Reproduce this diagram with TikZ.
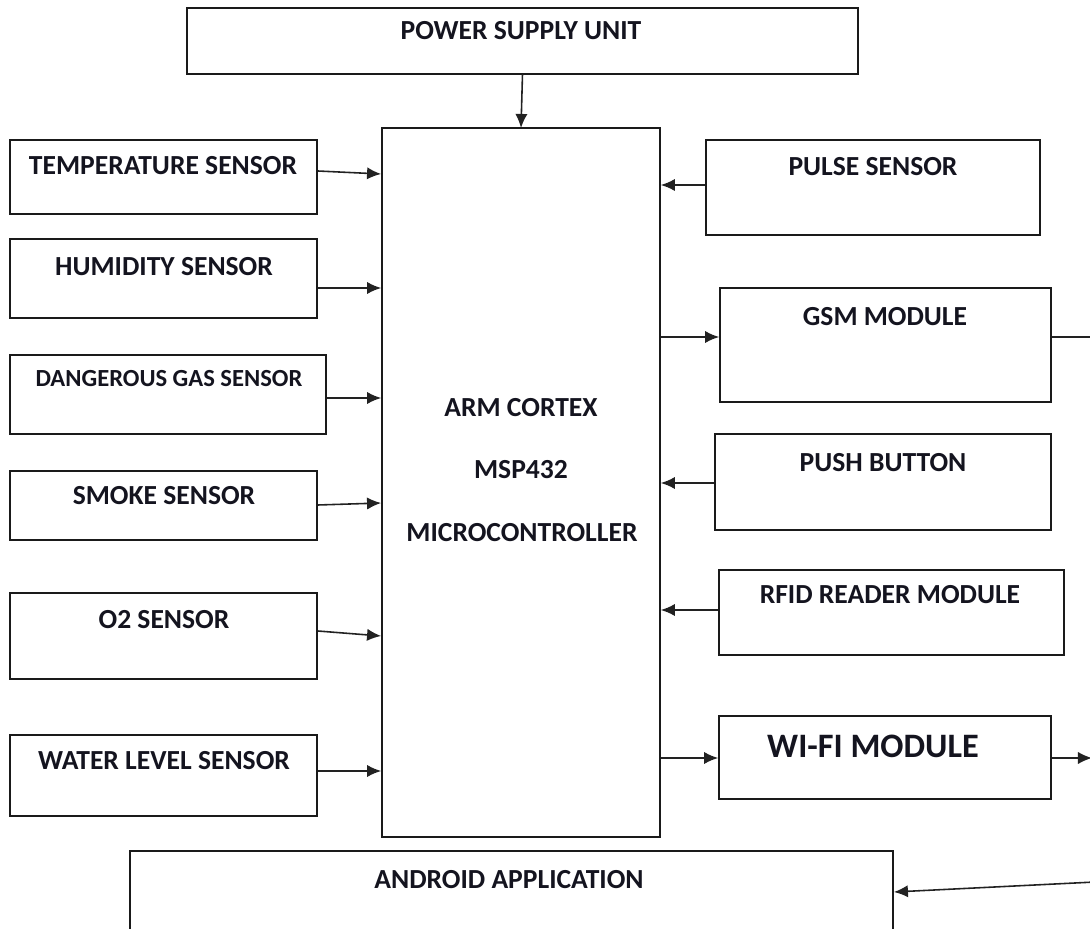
\documentclass[tikz,border=0pt]{standalone}
\usepackage{fontspec}
\setmainfont{Carlito}
\usetikzlibrary{arrows.meta,fit}
\definecolor{BlockLine}{HTML}{1A1A1A}
\definecolor{WireLine}{HTML}{222222}
\definecolor{LabelInk}{HTML}{14141F}
\tikzset{
  block/.style={draw=BlockLine,line width=1pt,inner sep=0pt},
  lbl/.style={text=LabelInk,font=\bfseries\fontsize{15.7}{18}\selectfont,inner sep=0pt},
  wire/.style={draw=WireLine,line width=0.9pt,-{Latex[length=8pt,width=7pt]}},
  plainwire/.style={draw=WireLine,line width=0.9pt},
}
\begin{document}
\begin{tikzpicture}[x=0.02cm,y=-0.02cm]
  \useasboundingbox (0,0) rectangle (1090,929);
  % blocks
  \node[block,fit={(187,8) (858,74)}] (psu) {};
  \node[block,fit={(382,128) (660,837)}] (mcu) {};
  \node[block,fit={(10,140) (317,214)}] (temp) {};
  \node[block,fit={(10,239) (317,318)}] (hum) {};
  \node[block,fit={(10,355) (326,434)}] (gas) {};
  \node[block,fit={(10,471) (317,540)}] (smoke) {};
  \node[block,fit={(10,593) (317,679)}] (otwo) {};
  \node[block,fit={(10,735) (317,816)}] (water) {};
  \node[block,fit={(706,140) (1040,235)}] (pulse) {};
  \node[block,fit={(720,288) (1051,402)}] (gsm) {};
  \node[block,fit={(715,434) (1051,530)}] (push) {};
  \node[block,fit={(719,570) (1064,655)}] (rfid) {};
  \node[block,fit={(719,716) (1051,799)}] (wifi) {};
  \node[block,fit={(130,851) (893,950)}] (app) {};
  % labels
  \node[lbl] (psuT) at (521,31) {POWER SUPPLY UNIT};
  \node[lbl] (mcuA) at (521,408) {ARM CORTEX};
  \node[lbl] (mcuB) at (521,470) {MSP432};
  \node[lbl] (mcuC) at (522,533) {MICROCONTROLLER};
  \node[lbl] (tempT) at (163,166) {TEMPERATURE SENSOR};
  \node[lbl] (humT) at (164,267) {HUMIDITY SENSOR};
  \node[lbl,font=\bfseries\fontsize{14}{16}\selectfont] (gasT) at (169,379) {DANGEROUS GAS SENSOR};
  \node[lbl] (smokeT) at (164,496) {SMOKE SENSOR};
  \node[lbl] (otwoT) at (164,620) {O2 SENSOR};
  \node[lbl] (waterT) at (164,761) {WATER LEVEL SENSOR};
  \node[lbl] (pulseT) at (873,167) {PULSE SENSOR};
  \node[lbl] (gsmT) at (885,317) {GSM MODULE};
  \node[lbl] (pushT) at (883,463) {PUSH BUTTON};
  \node[lbl] (rfidT) at (890,595) {RFID READER MODULE};
  \node[lbl,font=\bfseries\fontsize{19.5}{22}\selectfont] (wifiT) at (873,746) {WI-FI MODULE};
  \node[lbl] (appT) at (509,880) {ANDROID APPLICATION};
  % free ends at the right margin
  \coordinate (gsmOut) at (1095,337);
  \coordinate (wifiOut) at (1092,758);
  \coordinate (appIn) at (1095,882);
  % connectors
  \draw[wire] (psu.south |- 0,74) -- (mcu.north |- 0,128);
  \draw[wire] (temp.east |- 0,171) -- (mcu.west |- 0,174);
  \draw[wire] (hum.east |- 0,288) -- (mcu.west |- 0,288);
  \draw[wire] (gas.east |- 0,398) -- (mcu.west |- 0,398);
  \draw[wire] (smoke.east |- 0,505) -- (mcu.west |- 0,503);
  \draw[wire] (otwo.east |- 0,631) -- (mcu.west |- 0,636);
  \draw[wire] (water.east |- 0,771) -- (mcu.west |- 0,771);
  \draw[wire] (pulse.west |- 0,185) -- (mcu.east |- 0,185);
  \draw[wire] (mcu.east |- 0,337) -- (gsm.west |- 0,337);
  \draw[plainwire] (gsm.east |- 0,337) -- (gsmOut);
  \draw[wire] (push.west |- 0,483) -- (mcu.east |- 0,483);
  \draw[wire] (rfid.west |- 0,610) -- (mcu.east |- 0,610);
  \draw[wire] (mcu.east |- 0,758) -- (wifi.west |- 0,758);
  \draw[wire] (wifi.east |- 0,758) -- (wifiOut);
  \draw[wire] (appIn) -- (app.east |- 0,892);
\end{tikzpicture}
\end{document}
